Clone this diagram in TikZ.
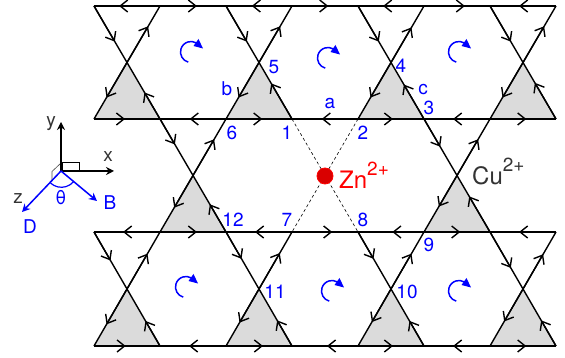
\documentclass[tikz,border=0pt]{standalone}
\usepackage{fontspec}
\setmainfont{TeX Gyre Heros}
\usetikzlibrary{calc,arrows.meta}
\definecolor{triangle}{gray}{0.86}
\definecolor{axislabel}{gray}{0.2}
\tikzset{
	bond/.style={line width=1.4pt,black},
	barb/.style={line width=1.4pt,black,-{Straight Barb[length=7.5pt,width=12pt]}},
	link/.style={line width=0.6pt,black,dash pattern=on 3pt off 2.5pt},
	site/.style={inner sep=0pt,blue,font=\fontsize{19}{19}\selectfont},
	axis/.style={line width=1.3pt,black,-{Stealth[length=8pt,width=8pt]}},
	vec/.style={line width=1.5pt,blue,-{Stealth[length=8pt,width=8pt]}},
	axislab/.style={inner sep=0pt,axislabel,font=\fontsize{19}{19}\selectfont},
	spin/.style={line width=1.5pt,blue},
}
\newcommand{\ionlabel}[2]{#1\raisebox{.58em}{\fontsize{19}{19}\selectfont #2}}
\begin{document}
\begin{tikzpicture}[x=1pt,y=1pt]
		\useasboundingbox (0,0) rectangle (565,358);
		
		% lattice points, rows from the top
		\foreach \r/\y in {0/352,1/239,2/126,3/12}
		{
			\foreach \c in {0,...,7}
			{
				\coordinate (p\r\c) at (94+66*\c,\y);
			}
		}
		
		% grey triangles
		\foreach \r/\c in {0/0,0/2,0/4,0/6,1/1,1/5,2/0,2/2,2/4,2/6}
		{
			\pgfmathtruncatemacro{\rr}{\r+1}
			\pgfmathtruncatemacro{\cc}{\c+1}
			\fill[triangle] ($(p\r\c)!.5!(p\rr\cc)$) -- (p\rr\c) -- (p\rr\cc) -- cycle;
		}
		
		% horizontal lines
		\foreach \r in {0,...,3}
		{
			\draw[bond] (p\r0) -- (p\r7);
		}
		\foreach \a/\b/\f in {01/00/.62,01/02/.56,03/02/.61,03/04/.55,05/04/.62,05/06/.62,07/06/.56,
			10/11/.47,12/11/.55,12/13/.55,14/13/.55,14/15/.53,16/15/.56,16/17/.55,
			21/20/.56,21/22/.56,23/22/.56,23/24/.61,25/24/.48,25/26/.55,27/26/.56,
			30/31/.48,32/31/.56,32/33/.56,34/33/.47,34/35/.53,36/35/.56,36/37/.55}
		{
			\draw[barb] (p\a) -- ($(p\a)!\f!(p\b)$);
		}
		
		% crossings, with where the four tips sit
		\foreach \r/\c/\ul/\ur/\ll/\lr in {0/0/.63/.64/.62/.47,0/2/.63/.64/.62/.63,0/4/.63/.62/.62/.61,0/6/.63/.64/.62/.64,
			1/1/.45/.64/.57/.49,1/5/.49/.64/.55/.63,
			2/0/.50/.62/.62/.44,2/2/.47/.63/.59/.45,2/4/.47/.62/.58/.44,2/6/.63/.61/.57/.45}
		{
			\pgfmathtruncatemacro{\rr}{\r+1}
			\pgfmathtruncatemacro{\cc}{\c+1}
			\coordinate (apex) at ($(p\r\c)!.5!(p\rr\cc)$);
			\draw[bond] (p\r\c) -- (p\rr\cc);
			\draw[bond] (p\r\cc) -- (p\rr\c);
			\draw[barb] (p\r\c) -- ($(p\r\c)!\ul!(apex)$);
			\draw[barb] (apex) -- ($(apex)!\ur!(p\r\cc)$);
			\draw[barb] (apex) -- ($(apex)!\ll!(p\rr\c)$);
			\draw[barb] (p\rr\cc) -- ($(p\rr\cc)!\lr!(apex)$);
		}
		
		% Zn site
		\draw[link] (p13) -- (p24);
		\draw[link] (p14) -- (p23);
		\node[circle,minimum size=16pt,inner sep=0pt,draw=red,fill=red!85!black,line width=0.8pt] (zn) at (325,182) {};
		\node[inner sep=0pt,anchor=base west,red,font=\fontsize{24}{24}\selectfont] (znlabel) at (339,169) {\ionlabel{Zn}{2+}};
		\node[inner sep=0pt,anchor=base west,axislabel,font=\fontsize{24}{24}\selectfont] (culabel) at (472,173) {\ionlabel{Cu}{2+}};
		
		% rotation marks
		\foreach \x/\y in {191/306,328/300,459/306,186/71,332/67,459/67}
		{
			\begin{scope}[shift={(\x,\y)}]
				\draw[spin] (255:10.5) arc[start angle=255,end angle=60,radius=10.5];
				\fill[blue] (7.5,13) -- (12,3.5) -- (2.5,6) -- cycle;
			\end{scope}
		}
		
		% site labels
		\node[site] (s5) at (274,291) {5};
		\node[site] (sb) at (227,269) {b};
		\node[site] (sa) at (330,254) {a};
		\node[site] (s6) at (232,225) {6};
		\node[site] (s1) at (287,225) {1};
		\node[site] (s2) at (363,225) {2};
		\node[site] (s4) at (401,292) {4};
		\node[site] (sc) at (423,268) {c};
		\node[site] (s3) at (429,250) {3};
		\node[site] (s7) at (287,138) {7};
		\node[site] (s8) at (363,138) {8};
		\node[site] (s12) at (233,138) {12};
		\node[site] (s9) at (429,113) {9};
		\node[site] (s10) at (407,66) {10};
		\node[site] (s11) at (275,66) {11};
		
		% axes
		\coordinate (o) at (61,187);
		\draw[line width=0.6pt,black] (62,187) rectangle (79,195.5);
		\draw[line width=0.6pt,black!70] (61,195) -- (52,186.5) -- (52,178);
		\draw[axis] (o) -- (61,236);
		\draw[axis] (o) -- (114,187);
		\draw[line width=1.2pt,blue] (50.5,175) arc[start angle=227,end angle=320,radius=16];
		\draw[vec] (o) -- (22,146);
		\draw[vec] (o) -- (97,157);
		\node[axislab] (ylab) at (51,234) {y};
		\node[axislab] (xlab) at (108,201) {x};
		\node[axislab] (zlab) at (18,159) {z};
		\node[site] (dlab) at (30,131) {D};
		\node[site] (blab) at (110,155) {B};
		\node[site] (thetalab) at (61,160) {θ};
\end{tikzpicture}
\end{document}
